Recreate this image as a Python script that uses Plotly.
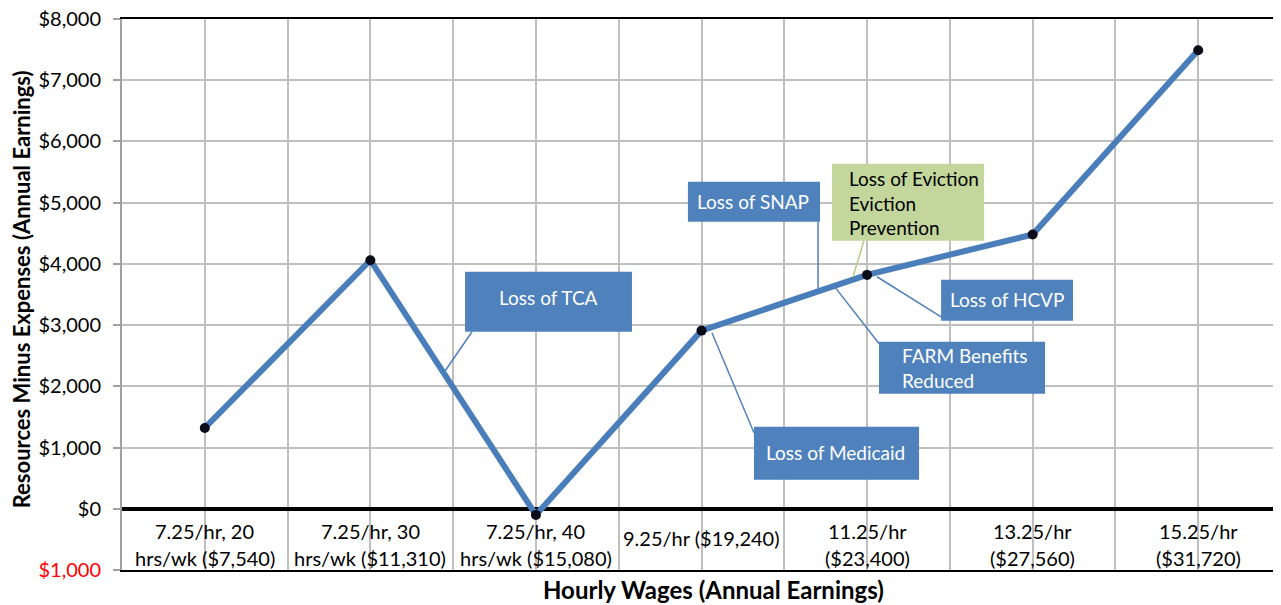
import plotly.graph_objects as go

# ---------------- data ----------------
categories_line1 = ["7.25/hr, 20", "7.25/hr, 30", "7.25/hr, 40", "9.25/hr ($19,240)",
                    "11.25/hr", "13.25/hr", "15.25/hr"]
categories_line2 = ["hrs/wk ($7,540)", "hrs/wk ($11,310)", "hrs/wk ($15,080)", "",
                    "($23,400)", "($27,560)", "($31,720)"]
net_resources = [1320, 4060, -100, 2910, 3820, 4480, 7490]

y_tickvals = [-1000, 0, 1000, 2000, 3000, 4000, 5000, 6000, 7000, 8000]
y_ticktext = ['<span style="color:#FF0000">$1,000</span>', "$0", "$1,000", "$2,000", "$3,000",
              "$4,000", "$5,000", "$6,000", "$7,000", "$8,000"]

# callouts: text, box [x0, x1, y0, y1], text anchor (x, y), leader (x0, y0, x1, y1), style
callout_text = ["Loss of TCA", "Loss of SNAP", "Loss of Eviction<br>Eviction<br>Prevention",
                "Loss of HCVP", "FARM Benefits<br>Reduced", "Loss of Medicaid"]
callout_box = [[1.572, 2.580, 2891, 3871],
               [2.918, 3.716, 4688, 5341],
               [3.788, 4.706, 4378, 5635],
               [4.447, 5.244, 3071, 3741],
               [4.072, 5.075, 1878, 2728],
               [3.317, 4.314, 474, 1339]]
callout_text_pos = [(2.073, 3447, "center"), (3.311, 5015, "center"), (3.879, 5000, "left"),
                    (4.845, 3414, "center"), (4.199, 2303, "left"), (3.812, 915, "center")]
callout_leader = [(1.614, 2891, 1.451, 2250),
                  (3.704, 4688, 3.704, 3600),
                  (3.981, 4378, 3.915, 3790),
                  (4.447, 3136, 4.06, 3790),
                  (4.072, 2700, 3.806, 3620),
                  (3.317, 1241, 3.063, 2875)]
callout_green = [False, False, True, False, False, False]

BLUE = "#4F81BD"
GREEN = "#C3D69B"
LINE = "#4A7EBB"
GRID = "#BFBFBF"
FONT = "Lato"

x_idx = list(range(len(net_resources)))

fig = go.Figure()
fig.add_trace(go.Scatter(
    x=x_idx, y=net_resources, mode="lines+markers",
    line=dict(color=LINE, width=6),
    marker=dict(color="#0B0B1A", size=10, line=dict(width=0)),
    showlegend=False, hoverinfo="skip"))

shapes = []
annotations = []
for i, txt in enumerate(callout_text):
    x0, x1, y0, y1 = callout_box[i]
    fill = GREEN if callout_green[i] else BLUE
    lx0, ly0, lx1, ly1 = callout_leader[i]
    shapes.append(dict(type="line", xref="x", yref="y", x0=lx0, y0=ly0, x1=lx1, y1=ly1,
                       line=dict(color=("#B5CC86" if callout_green[i] else BLUE), width=1.5),
                       layer="above"))
    shapes.append(dict(type="rect", xref="x", yref="y", x0=x0, x1=x1, y0=y0, y1=y1,
                       fillcolor=fill, line=dict(width=0), layer="above"))
    tx, ty, al = callout_text_pos[i]
    annotations.append(dict(
        x=tx, y=ty, xref="x", yref="y", text=txt, showarrow=False,
        xanchor=al, yanchor="middle", align=al,
        font=dict(family=FONT, size=19, color=("#000000" if callout_green[i] else "#FFFFFF"))))

# category labels
for i in x_idx:
    if categories_line2[i]:
        annotations.append(dict(x=i, y=0, xref="x", yref="y", text=categories_line1[i],
                                showarrow=False, yanchor="middle", yshift=-22,
                                font=dict(family=FONT, size=20, color="#000000")))
        annotations.append(dict(x=i, y=0, xref="x", yref="y", text=categories_line2[i],
                                showarrow=False, yanchor="middle", yshift=-49,
                                font=dict(family=FONT, size=20, color="#000000")))
    else:
        annotations.append(dict(x=i, y=0, xref="x", yref="y", text=categories_line1[i],
                                showarrow=False, yanchor="middle", yshift=-29,
                                font=dict(family=FONT, size=20, color="#000000")))

# axis titles
annotations.append(dict(x=0.51, y=-0.036, xref="paper", yref="paper",
                        text="<b>Hourly Wages (Annual Earnings)</b>", showarrow=False,
                        xanchor="center", yanchor="middle",
                        font=dict(family=FONT, size=24, color="#000000")))
annotations.append(dict(x=-0.086, y=0.51, xref="paper", yref="paper",
                        text="<b>Resources Minus Expenses (Annual Earnings)</b>", showarrow=False,
                        textangle=-90, xanchor="center", yanchor="middle",
                        font=dict(family=FONT, size=22, color="#000000")))

fig.update_layout(
    width=1281, height=605,
    margin=dict(l=114, r=8, t=11, b=43, autoexpand=False),
    paper_bgcolor="white", plot_bgcolor="white",
    shapes=shapes, annotations=annotations,
    xaxis=dict(range=[-0.5, 6.5], tickmode="linear", tick0=-0.5, dtick=0.5,
               showticklabels=False, ticks="", showgrid=True, gridcolor=GRID, gridwidth=1.5,
               showline=True, linecolor="#000000", linewidth=2, mirror=True, zeroline=False,
               automargin=False, fixedrange=True),
    yaxis=dict(range=[-1000, 8000], tickvals=y_tickvals, ticktext=y_ticktext,
               tickfont=dict(family=FONT, size=20, color="#000000"),
               ticks="outside", ticklen=7, tickcolor="#A0A0A0", tickwidth=1.5,
               ticklabelstandoff=8, ticklabeloverflow="allow", automargin=False,
               showgrid=True, gridcolor=GRID, gridwidth=1.5,
               showline=True, linecolor="#A0A0A0", linewidth=2,
               zeroline=True, zerolinecolor="#000000", zerolinewidth=3.5,
               fixedrange=True),
)

fig.write_html("out.html")
